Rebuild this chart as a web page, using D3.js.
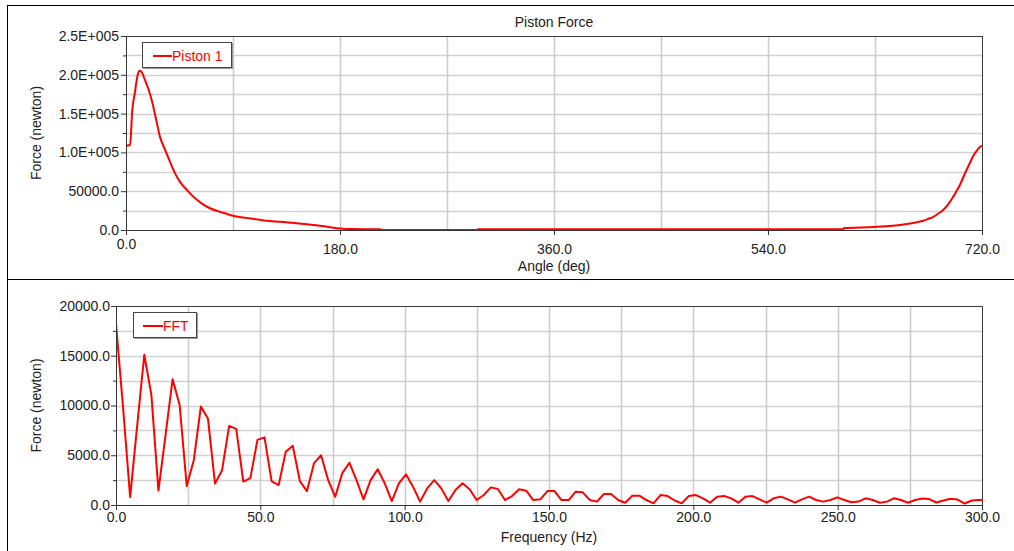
<!DOCTYPE html>
<html>
<head>
<meta charset="utf-8">
<script src="https://cdn.jsdelivr.net/npm/d3@7"></script>
<style>
body { margin: 0; background: #fff; }
text { font-family: Arial, "Liberation Sans", sans-serif; }
</style>
</head>
<body>
<div id="chart"></div>
<script>
// piston force vs crank angle
var pistonAngle = [0, 3.4, 5.3, 7.6, 9.5, 11.2, 13, 16, 19, 21.6, 25, 28.6, 33, 37, 41, 45.4, 51, 56.6, 63, 70.6,
    80, 90, 104, 118, 130, 143.6, 160, 170, 180, 190, 214, 215, 295, 296, 400, 500, 603, 604, 628.6, 645,
    656.6, 665, 670.6, 675, 679, 683, 687.4, 692, 695.8, 698.5, 701.4, 704, 707, 710, 712.6, 716, 718, 720];
var pistonForce = [108600, 109500, 154600, 178000, 197500, 205300, 204000, 193000, 181000, 167500, 145000, 120000, 103000, 88000, 74000, 62000, 52000, 43000, 35000, 28000,
    23000, 18400, 15000, 12000, 10500, 8600, 6000, 4000, 2000, 1200, 900, 0, 0, 900, 900, 900, 900, 2500, 3900, 5500,
    7700, 10000, 12000, 14500, 17000, 21000, 25800, 34000, 43000, 50000, 58000, 67000, 77300, 87000, 95400, 103000, 106500, 108600];

// FFT spectrum
var fftFreq = [0, 2.45, 4.9, 7.35, 9.8, 12.25, 14.7, 17.15, 19.6, 22.05, 24.5, 26.95, 29.4, 31.85, 34.3, 36.75, 39.2, 41.65, 44.1, 46.55,
    49, 51.45, 53.9, 56.35, 58.8, 61.25, 63.7, 66.15, 68.6, 71.05, 73.5, 75.95, 78.4, 80.85, 83.3, 85.75, 88.2, 90.65, 93.1, 95.55,
    98, 100.45, 102.9, 105.35, 107.8, 110.25, 112.7, 115.15, 117.6, 120.05, 122.5, 124.95, 127.4, 129.85, 132.3, 134.75, 137.2, 139.65, 142.1, 144.55,
    147, 149.45, 151.9, 154.35, 156.8, 159.25, 161.7, 164.15, 166.6, 169.05, 171.5, 173.95, 176.4, 178.85, 181.3, 183.75, 186.2, 188.65, 191.1, 193.55,
    196, 198.45, 200.9, 203.35, 205.8, 208.25, 210.7, 213.15, 215.6, 218.05, 220.5, 222.95, 225.4, 227.85, 230.3, 232.75, 235.2, 237.65, 240.1, 242.55,
    245, 247.45, 249.9, 252.35, 254.8, 257.25, 259.7, 262.15, 264.6, 267.05, 269.5, 271.95, 274.4, 276.85, 279.3, 281.75, 284.2, 286.65, 289.1, 291.55,
    294, 296.45, 298.9, 301.35];
var fftForce = [18200, 9800, 800, 8000, 15100, 11100, 1450, 7000, 12650, 10050, 1900, 4500, 9900, 8700, 2150, 3500, 7950, 7650, 2350, 2700,
    6550, 6800, 2400, 2000, 5350, 5950, 2400, 1400, 4200, 5000, 2500, 830, 3200, 4250, 2500, 570, 2500, 3600, 2180, 400,
    2180, 3080, 1840, 340, 1670, 2510, 1670, 400, 1510, 2180, 1580, 500, 1000, 1770, 1610, 500, 900, 1580, 1440, 500,
    570, 1400, 1400, 500, 500, 1340, 1270, 500, 340, 1100, 1100, 500, 230, 940, 940, 500, 170, 1000, 900, 450,
    170, 900, 1000, 670, 230, 840, 900, 670, 230, 840, 900, 570, 230, 670, 840, 570, 230, 570, 840, 500,
    340, 500, 770, 500, 270, 340, 670, 500, 230, 340, 670, 500, 230, 500, 650, 600, 250, 450, 620, 550,
    150, 450, 500, 500];

var forceTicks = [0, 50000, 100000, 150000, 200000, 250000];
var forceTickLabels = ['0.0', '50000.0', '1.0E+005', '1.5E+005', '2.0E+005', '2.5E+005'];
var angleTicks = [0, 180, 360, 540, 720];
var angleTickLabels = ['0.0', '180.0', '360.0', '540.0', '720.0'];
var fftTicks = [0, 5000, 10000, 15000, 20000];
var fftTickLabels = ['0.0', '5000.0', '10000.0', '15000.0', '20000.0'];
var freqTicks = [0, 50, 100, 150, 200, 250, 300];
var freqTickLabels = ['0.0', '50.0', '100.0', '150.0', '200.0', '250.0', '300.0'];

function createChart() {
    var svg = d3.select('#chart')
        .append('svg')
        .attr('width', 1014)
        .attr('height', 551);

    // outer frame
    svg.append('line').attr('x1', 7).attr('x2', 1014).attr('y1', 5.5).attr('y2', 5.5).style('stroke', '#000');
    svg.append('line').attr('x1', 7.5).attr('x2', 7.5).attr('y1', 5).attr('y2', 551).style('stroke', '#000');
    svg.append('line').attr('x1', 7).attr('x2', 1014).attr('y1', 279.5).attr('y2', 279.5).style('stroke', '#000');

    svg.append('text')
        .attr('x', 554).attr('y', 27)
        .attr('text-anchor', 'middle')
        .style('font-size', '14px')
        .style('fill', '#222')
        .text('Piston Force');

    drawPanel(svg, {
        id: 'top', left: 126, right: 982, top: 36, bottom: 230,
        xDomain: [0, 720], yDomain: [0, 250000],
        xTicks: angleTicks, xLabels: angleTickLabels, xGrid: [90, 180, 270, 360, 450, 540, 630],
        yTicks: forceTicks, yLabels: forceTickLabels, yStep: 25000,
        xs: pistonAngle, ys: pistonForce, curve: d3.curveMonotoneX,
        xPad: 9, firstLabelShift: -5, yPad: 2,
        xTitle: 'Angle (deg)', xTitleY: 271, yTitleX: 41,
        legend: 'Piston 1', legendBox: [142, 42, 89, 25], legendLine: [153, 172]
    });

    drawPanel(svg, {
        id: 'bottom', left: 116, right: 982, top: 306, bottom: 505,
        xDomain: [0, 300], yDomain: [0, 20000],
        xTicks: freqTicks, xLabels: freqTickLabels, xGrid: d3.range(25, 300, 25),
        yTicks: fftTicks, yLabels: fftTickLabels, yStep: 2500,
        xs: fftFreq, ys: fftForce, curve: d3.curveLinear,
        xPad: 2.5, firstLabelShift: 0, yPad: 1,
        xTitle: 'Frequency (Hz)', xTitleY: 542, yTitleX: 41,
        legend: 'FFT', legendBox: [133, 312, 63, 25], legendLine: [143, 163]
    });
}

function drawPanel(svg, p) {
    var x = d3.scaleLinear().domain(p.xDomain).range([p.left, p.right]);
    var y = d3.scaleLinear().domain(p.yDomain).range([p.bottom, p.top]);
    var g = svg.append('g');

    // grid
    var yGrid = d3.range(p.yDomain[0] + p.yStep, p.yDomain[1], p.yStep);
    g.append('g').selectAll('line')
        .data(yGrid).enter().append('line')
        .attr('x1', p.left).attr('x2', p.right)
        .attr('y1', d => Math.round(y(d)) + 0.5).attr('y2', d => Math.round(y(d)) + 0.5)
        .style('stroke', '#d2d2d2').style('stroke-width', 1.5);
    g.append('g').selectAll('line')
        .data(p.xGrid).enter().append('line')
        .attr('y1', p.top).attr('y2', p.bottom)
        .attr('x1', d => Math.round(x(d)) + 0.5).attr('x2', d => Math.round(x(d)) + 0.5)
        .style('stroke', '#cbcbcb').style('stroke-width', 1.5);

    // plot border
    g.append('rect')
        .attr('x', p.left + 0.5).attr('y', p.top + 0.5)
        .attr('width', p.right - p.left).attr('height', p.bottom - p.top)
        .style('fill', 'none').style('stroke', '#3a3a3a');

    // data line
    g.append('clipPath').attr('id', 'clip-' + p.id)
        .append('rect')
        .attr('x', p.left).attr('y', p.top - 2)
        .attr('width', p.right - p.left + 1).attr('height', p.bottom - p.top + 3);
    var pts = p.xs.map((d, i) => [d, p.ys[i]]);
    g.append('path')
        .datum(pts)
        .attr('clip-path', 'url(#clip-' + p.id + ')')
        .attr('d', d3.line().x(d => x(d[0])).y(d => y(d[1])).curve(p.curve))
        .style('fill', 'none').style('stroke', '#ff0000').style('stroke-width', 2)
        .style('stroke-linejoin', 'round');

    // axes
    var xAxis = g.append('g')
        .attr('transform', 'translate(0,' + p.bottom + ')')
        .call(d3.axisBottom(x).tickValues(p.xTicks).tickSize(5).tickPadding(p.xPad)
            .tickFormat((d, i) => p.xLabels[i]));
    xAxis.selectAll('text').filter((d, i) => i === 0).attr('y', 5 + p.xPad + p.firstLabelShift);

    var yAxis = g.append('g')
        .attr('transform', 'translate(' + p.left + ',0)')
        .call(d3.axisLeft(y).tickValues(p.yTicks).tickSize(5).tickPadding(p.yPad)
            .tickFormat((d, i) => p.yLabels[i]));
    g.append('g')
        .attr('transform', 'translate(' + p.left + ',0)')
        .call(d3.axisLeft(y).tickValues(yGrid.filter((d, i) => i % 2 === 0)).tickSize(3).tickFormat(''))
        .select('.domain').remove();

    g.selectAll('.tick line').style('stroke', '#333');
    g.selectAll('.domain').style('stroke', '#333');
    g.selectAll('.tick text').style('font-size', '14px').style('fill', '#222')
        .style('font-family', 'Arial, "Liberation Sans", sans-serif');

    // titles
    g.append('text')
        .attr('x', (p.left + p.right) / 2).attr('y', p.xTitleY)
        .attr('text-anchor', 'middle')
        .style('font-size', '14px').style('fill', '#222')
        .text(p.xTitle);
    g.append('text')
        .attr('transform', 'translate(' + p.yTitleX + ',' + (p.top + p.bottom) / 2 + ') rotate(-90)')
        .attr('text-anchor', 'middle')
        .style('font-size', '14px').style('fill', '#222')
        .text('Force (newton)');

    // legend
    var b = p.legendBox;
    g.append('rect')
        .attr('x', b[0] + 1.5).attr('y', b[1] + 1.5).attr('width', b[2]).attr('height', b[3])
        .style('fill', 'none').style('stroke', '#9a9a9a');
    g.append('rect')
        .attr('x', b[0] + 0.5).attr('y', b[1] + 0.5).attr('width', b[2]).attr('height', b[3])
        .style('fill', '#fff').style('stroke', '#444');
    var ly = b[1] + Math.round(b[3] / 2) + 1;
    g.append('line')
        .attr('x1', p.legendLine[0]).attr('x2', p.legendLine[1])
        .attr('y1', ly).attr('y2', ly)
        .style('stroke', '#ff0000').style('stroke-width', 2);
    g.append('text')
        .attr('x', p.legendLine[1]).attr('y', ly + 5)
        .style('font-size', '14px').style('fill', '#ff0000')
        .text(p.legend);
}

createChart();
</script>
</body>
</html>
